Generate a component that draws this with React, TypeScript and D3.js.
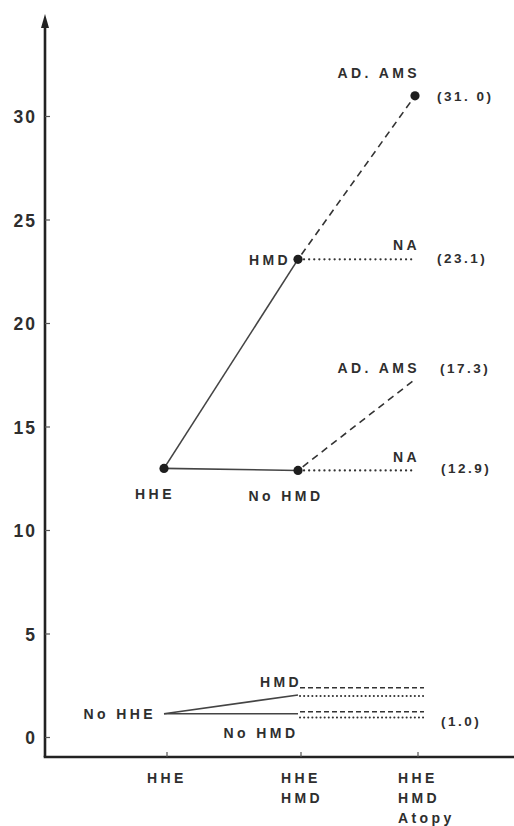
import React from "react";
import * as d3 from "d3";

// ---- data ----
const yTicks = [0, 5, 10, 15, 20, 25, 30];
const stageLabels = [["HHE"], ["HHE", "HMD"], ["HHE", "HMD", "Atopy"]];
const stages = [0, 1, 2];

// HHE branch values
const hheStart = 13.0;
const hheHMD = 23.1;
const hheNoHMD = 12.9;
const hmdAtopy = 31.0;
const hmdNA = 23.1;
const noHmdAtopy = 17.3;
const noHmdNA = 12.9;

// No HHE branch values
const noHHE = 1.15;
const noHheHMD = 2.05;
const noHheNoHMD = 1.15;
const noHheHMDDashed = 2.4;
const noHheHMDDotted = 2.0;
const noHheNoHMDDashed = 1.25;
const noHheNoHMDDotted = 0.97;

type Seg = { x0: number; v0: number; x1: number; v1: number; style: "solid" | "dash" | "dot" | "sdash" | "sdot" };
const segments: Seg[] = [
  { x0: 0, v0: hheStart, x1: 1, v1: hheHMD, style: "solid" },
  { x0: 0, v0: hheStart, x1: 1, v1: hheNoHMD, style: "solid" },
  { x0: 1, v0: hheHMD, x1: 2, v1: hmdAtopy, style: "dash" },
  { x0: 1, v0: hheHMD, x1: 2, v1: hmdNA, style: "dot" },
  { x0: 1, v0: hheNoHMD, x1: 2, v1: noHmdAtopy, style: "dash" },
  { x0: 1, v0: hheNoHMD, x1: 2, v1: noHmdNA, style: "dot" },
  { x0: 0, v0: noHHE, x1: 1, v1: noHheHMD, style: "solid" },
  { x0: 0, v0: noHHE, x1: 1, v1: noHheNoHMD, style: "solid" },
  { x0: 1, v0: noHheHMDDashed, x1: 2, v1: noHheHMDDashed, style: "sdash" },
  { x0: 1, v0: noHheHMDDotted, x1: 2, v1: noHheHMDDotted, style: "sdot" },
  { x0: 1, v0: noHheNoHMDDashed, x1: 2, v1: noHheNoHMDDashed, style: "sdash" },
  { x0: 1, v0: noHheNoHMDDotted, x1: 2, v1: noHheNoHMDDotted, style: "sdot" },
];

const dots: [number, number][] = [
  [0, hheStart],
  [1, hheHMD],
  [1, hheNoHMD],
  [2, hmdAtopy],
];

const W = 514;
const H = 826;
const FONT = "'Liberation Sans', Arial, sans-serif";
const INK = "#2e2e2e";

export default function App() {
  const x = d3.scaleLinear().domain([0, 1, 2]).range([164, 298, 415]);
  const y = d3.scaleLinear().domain([0, 30]).range([737.5, 116.5]);
  const axisX = 45;
  const axisY = 757;
  const line = d3.line<[number, number]>().x((d) => d[0]).y((d) => d[1]);

  const styleOf = (s: Seg["style"]) => {
    switch (s) {
      case "solid":
        return { stroke: "#444", strokeWidth: 1.6, dash: undefined, cap: "butt" };
      case "dash":
        return { stroke: "#333", strokeWidth: 1.6, dash: "7 5", cap: "butt" };
      case "dot":
        return { stroke: "#333", strokeWidth: 2.2, dash: "0.1 5", cap: "round" };
      case "sdash":
        return { stroke: "#333", strokeWidth: 1.5, dash: "5 3", cap: "butt" };
      case "sdot":
        return { stroke: "#333", strokeWidth: 2, dash: "0.1 4", cap: "round" };
    }
  };

  const txt = (
    key: string,
    tx: number,
    ty: number,
    s: string,
    anchor: "start" | "middle" | "end" = "start",
    size = 14,
    ls = 3.4
  ) => (
    <text
      key={key}
      x={tx}
      y={ty}
      textAnchor={anchor}
      fontFamily={FONT}
      fontSize={size}
      fontWeight={700}
      letterSpacing={ls}
      fill={INK}
    >
      {s}
    </text>
  );

  return (
    <svg
      width={W}
      height={H}
      viewBox={`0 0 ${W} ${H}`}
      style={{ position: "absolute", left: 0, top: 0, background: "#fff" }}
    >
      <rect width={W} height={H} fill="#fff" />
      {/* axes */}
      <line x1={axisX} y1={axisY} x2={axisX} y2={22} stroke="#222" strokeWidth={2.6} />
      <path d={`M${axisX - 4},${28} L${axisX},${14} L${axisX + 4},${28} Z`} fill="#222" />
      <line x1={axisX - 1.3} y1={axisY} x2={W} y2={axisY} stroke="#222" strokeWidth={2.6} />

      {/* y ticks */}
      {yTicks.map((t) => (
        <g key={"yt" + t}>
          <line x1={axisX} x2={axisX + 5} y1={y(t)} y2={y(t)} stroke="#555" strokeWidth={1.2} />
          <text
            x={37}
            y={y(t) + 6.5}
            textAnchor="end"
            fontFamily={FONT}
            fontSize={17.5}
            fontWeight={700}
            letterSpacing={2}
            fill={INK}
          >
            {t}
          </text>
        </g>
      ))}

      {/* x ticks */}
      {stages.map((s) => (
        <g key={"xt" + s}>
          <line x1={x(s) + 3} x2={x(s) + 3} y1={axisY} y2={axisY - 5} stroke="#555" strokeWidth={1.2} />
          {stageLabels[s].map((l, i) => txt("xl" + s + i, x(s) - 17, 783 + i * 20, l, "start"))}
        </g>
      ))}

      {/* segments */}
      {segments.map((sg, i) => {
        const st = styleOf(sg.style);
        const small = sg.style === "sdash" || sg.style === "sdot";
        const d = line([
          [x(sg.x0) + (small ? 2 : 0), y(sg.v0)],
          [x(sg.x1) + (small ? 9 : 0), y(sg.v1)],
        ]);
        const isOff = sg.style === "dash" || sg.style === "dot";
        return (
          <path
            key={"s" + i}
            d={d || ""}
            fill="none"
            stroke={st.stroke}
            strokeWidth={st.strokeWidth}
            strokeDasharray={st.dash}
            strokeDashoffset={isOff ? -6 : 0}
            strokeLinecap={st.cap as any}
          />
        );
      })}

      {/* dots */}
      {dots.map(([s, v], i) => (
        <circle key={"d" + i} cx={x(s)} cy={y(v)} r={4.6} fill="#1e1e1e" />
      ))}

      {/* labels */}
      {txt("l1", x(2) + 5, y(hmdAtopy) - 18, "AD. AMS", "end")}
      {txt("l2", x(2) + 22, y(hmdAtopy) + 5, "(31. 0)", "start", 13.5, 2.5)}
      {txt("l3", x(1) - 7, y(hheHMD) + 6, "HMD", "end")}
      {txt("l4", x(2) + 5, y(hmdNA) - 9, "NA", "end")}
      {txt("l5", x(2) + 22, y(hmdNA) + 4, "(23.1)", "start", 13.5, 2.5)}
      {txt("l6", x(2) + 5, y(noHmdAtopy) - 6, "AD. AMS", "end")}
      {txt("l7", x(2) + 25, y(noHmdAtopy) - 6, "(17.3)", "start", 13.5, 2.5)}
      {txt("l8", x(2) + 5, y(noHmdNA) - 8, "NA", "end")}
      {txt("l9", x(2) + 26, y(noHmdNA) + 3, "(12.9)", "start", 13.5, 2.5)}
      {txt("l10", x(0) - 9, y(hheStart) + 31, "HHE", "middle")}
      {txt("l11", x(1) - 12, y(hheNoHMD) + 31, "No HMD", "middle")}
      {txt("l12", x(0) - 8, y(noHHE) + 5, "No HHE", "end")}
      {txt("l13", x(1) + 4, y(noHheHMD) - 8, "HMD", "end")}
      {txt("l14", x(1) - 37, y(noHheNoHMD) + 24, "No HMD", "middle")}
      {txt("l15", x(2) + 26, y(noHheNoHMDDotted) + 9, "(1.0)", "start", 13.5, 2.5)}
    </svg>
  );
}
